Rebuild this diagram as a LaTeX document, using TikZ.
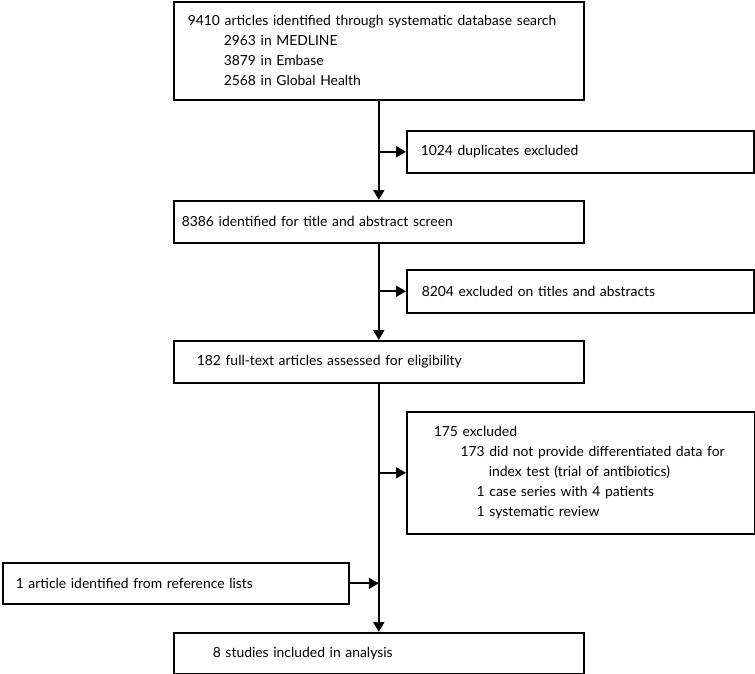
\documentclass[tikz,border=0pt]{standalone}
\usepackage{fontspec}
\setmainfont{Lato}
\usetikzlibrary{arrows.meta}
\begin{document}
\begin{tikzpicture}[x=1pt,y=-1pt,
  box/.style={draw, line width=1.6pt, anchor=north west, align=left,
    font=\fontsize{13.9}{20}\selectfont, inner ysep=0pt},
  arr/.style={line width=1.8pt, -{Triangle[length=10pt,width=11pt]}}]
\useasboundingbox (0,0) rectangle (755,674);
\node[box, minimum width=410pt, minimum height=98pt, inner xsep=14pt, text width=382pt] (b1) at (173,1)
  {\makebox[0pt][l]{9410 articles identified through systematic database search}\\
   \hspace*{36pt}2963 in MEDLINE\\
   \hspace*{36pt}3879 in Embase\\
   \hspace*{36pt}2568 in Global Health};
\node[box, minimum width=347pt, minimum height=42pt, inner xsep=14pt, text width=319pt] (dup) at (406,130)
  {1024 duplicates excluded};
\node[box, minimum width=410pt, minimum height=42pt, inner xsep=8pt, text width=394pt] (scr) at (173,200)
  {8386 identified for title and abstract screen};
\node[box, minimum width=347pt, minimum height=43pt, inner xsep=15pt, text width=317pt] (tia) at (406,269)
  {8204 excluded on titles and abstracts};
\node[box, minimum width=410pt, minimum height=42pt, inner xsep=23pt, text width=364pt] (full) at (173,340)
  {182 full-text articles assessed for eligibility};
\node[box, minimum width=348pt, minimum height=122pt, inner xsep=27pt, text width=294pt] (exc) at (406,411)
  {175 excluded\\
   \makebox[0pt][l]{\makebox[51pt][r]{173} did not provide differentiated data for}\\
   \hspace*{55pt}index test (trial of antibiotics)\\
   \makebox[51pt][r]{1} case series with 4 patients\\
   \makebox[51pt][r]{1} systematic review};
\node[box, minimum width=346pt, minimum height=41pt, inner xsep=13pt, text width=320pt] (ref) at (2,562)
  {1 article identified from reference lists};
\node[box, minimum width=410pt, minimum height=41pt, inner xsep=39pt, text width=332pt] (fin) at (173,632)
  {8 studies included in analysis};
\draw[arr] (b1.south) -- (scr.north);
\draw[arr] (b1.south |- dup.west) -- (dup.west);
\draw[arr] (scr.south) -- (full.north);
\draw[arr] (scr.south |- tia.west) -- (tia.west);
\draw[arr] (full.south) -- (fin.north);
\draw[arr] (full.south |- exc.west) -- (exc.west);
\draw[arr] (ref.east) -- (ref.east -| full.south);
\end{tikzpicture}
\end{document}
